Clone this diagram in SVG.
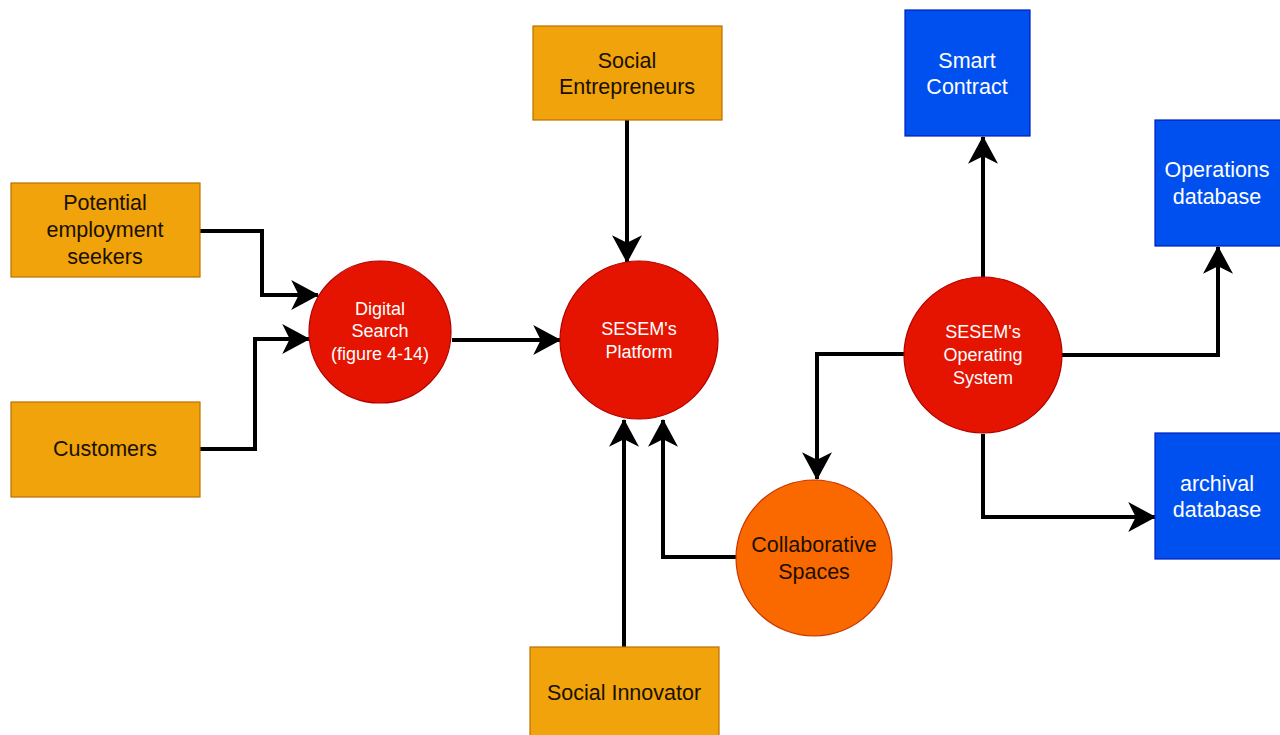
<svg xmlns="http://www.w3.org/2000/svg" width="1280" height="735" viewBox="0 0 1280 735">
  <style>
    .actor { fill: #F0A30A; stroke: #BD7000; stroke-width: 1.2; }
    .proc { fill: #E51400; stroke: #B20000; stroke-width: 1.2; }
    .space { fill: #FA6800; stroke: #C73500; stroke-width: 1.2; }
    .store { fill: #0050EF; stroke: #001DBC; stroke-width: 1.2; }
    text { font-family: "Liberation Sans", Arial, sans-serif; text-anchor: middle; dominant-baseline: central; }
    .dark { fill: #1a1000; font-size: 21.5px; }
    .light { fill: #ffffff; font-size: 21.5px; }
    .small { fill: #ffffff; font-size: 18px; }
    .link { fill: none; stroke: #000000; stroke-width: 4; stroke-linejoin: miter; }
  </style>
  <defs>
    <marker id="arrow" markerUnits="userSpaceOnUse" markerWidth="30" markerHeight="30" viewBox="0 0 26 28" refX="25" refY="14" orient="auto">
      <path d="M0,0 L26,14 L0,28 L7,14 Z" fill="#000000"/>
    </marker>
  </defs>

  <rect width="1280" height="735" fill="#ffffff"/>

  <!-- connectors -->
  <g id="connectors">
    <path class="link" d="M627,120 V262" marker-end="url(#arrow)"/>
    <path class="link" d="M200,231 H262 V295 H318" marker-end="url(#arrow)"/>
    <path class="link" d="M200,449 H255 V339 H309" marker-end="url(#arrow)"/>
    <path class="link" d="M452,340 H560" marker-end="url(#arrow)"/>
    <path class="link" d="M624,647 V420" marker-end="url(#arrow)"/>
    <path class="link" d="M737,557 H663 V420" marker-end="url(#arrow)"/>
    <path class="link" d="M905,354 H817 V479" marker-end="url(#arrow)"/>
    <path class="link" d="M983,277 V137" marker-end="url(#arrow)"/>
    <path class="link" d="M1062,355 H1218 V247" marker-end="url(#arrow)"/>
    <path class="link" d="M983,434 V517 H1155" marker-end="url(#arrow)"/>
  </g>

  <!-- stakeholders -->
  <g id="social-entrepreneurs">
    <rect class="actor" x="533" y="26" width="189" height="94"/>
    <text class="dark" x="627" y="61">Social</text>
    <text class="dark" x="627" y="87">Entrepreneurs</text>
  </g>
  <g id="potential-employment-seekers">
    <rect class="actor" x="11" y="183" width="189" height="94"/>
    <text class="dark" x="105" y="203">Potential</text>
    <text class="dark" x="105" y="230">employment</text>
    <text class="dark" x="105" y="257">seekers</text>
  </g>
  <g id="customers">
    <rect class="actor" x="11" y="402" width="189" height="95"/>
    <text class="dark" x="105" y="449">Customers</text>
  </g>
  <g id="social-innovator">
    <rect class="actor" x="530" y="647" width="189" height="95"/>
    <text class="dark" x="624" y="693">Social Innovator</text>
  </g>

  <!-- processes -->
  <g id="digital-search">
    <circle class="proc" cx="380" cy="332" r="71"/>
    <text class="small" x="380" y="309">Digital</text>
    <text class="small" x="380" y="331">Search</text>
    <text class="small" x="380" y="354">(figure 4-14)</text>
  </g>
  <g id="sesem-platform">
    <circle class="proc" cx="639" cy="340" r="79"/>
    <text class="small" x="639" y="329">SESEM's</text>
    <text class="small" x="639" y="352">Platform</text>
  </g>
  <g id="sesem-operating-system">
    <ellipse class="proc" cx="983" cy="355" rx="79" ry="78"/>
    <text class="small" x="983" y="332">SESEM's</text>
    <text class="small" x="983" y="355">Operating</text>
    <text class="small" x="983" y="378">System</text>
  </g>
  <g id="collaborative-spaces">
    <ellipse class="space" cx="814" cy="558" rx="78" ry="78"/>
    <text class="dark" x="814" y="545">Collaborative</text>
    <text class="dark" x="814" y="572">Spaces</text>
  </g>

  <!-- stores -->
  <g id="smart-contract">
    <rect class="store" x="905" y="10" width="125" height="126"/>
    <text class="light" x="967" y="61">Smart</text>
    <text class="light" x="967" y="87">Contract</text>
  </g>
  <g id="operations-database">
    <rect class="store" x="1155" y="120" width="130" height="126"/>
    <text class="light" x="1217" y="170">Operations</text>
    <text class="light" x="1217" y="197">database</text>
  </g>
  <g id="archival-database">
    <rect class="store" x="1155" y="433" width="130" height="126"/>
    <text class="light" x="1217" y="484">archival</text>
    <text class="light" x="1217" y="510">database</text>
  </g>
</svg>
